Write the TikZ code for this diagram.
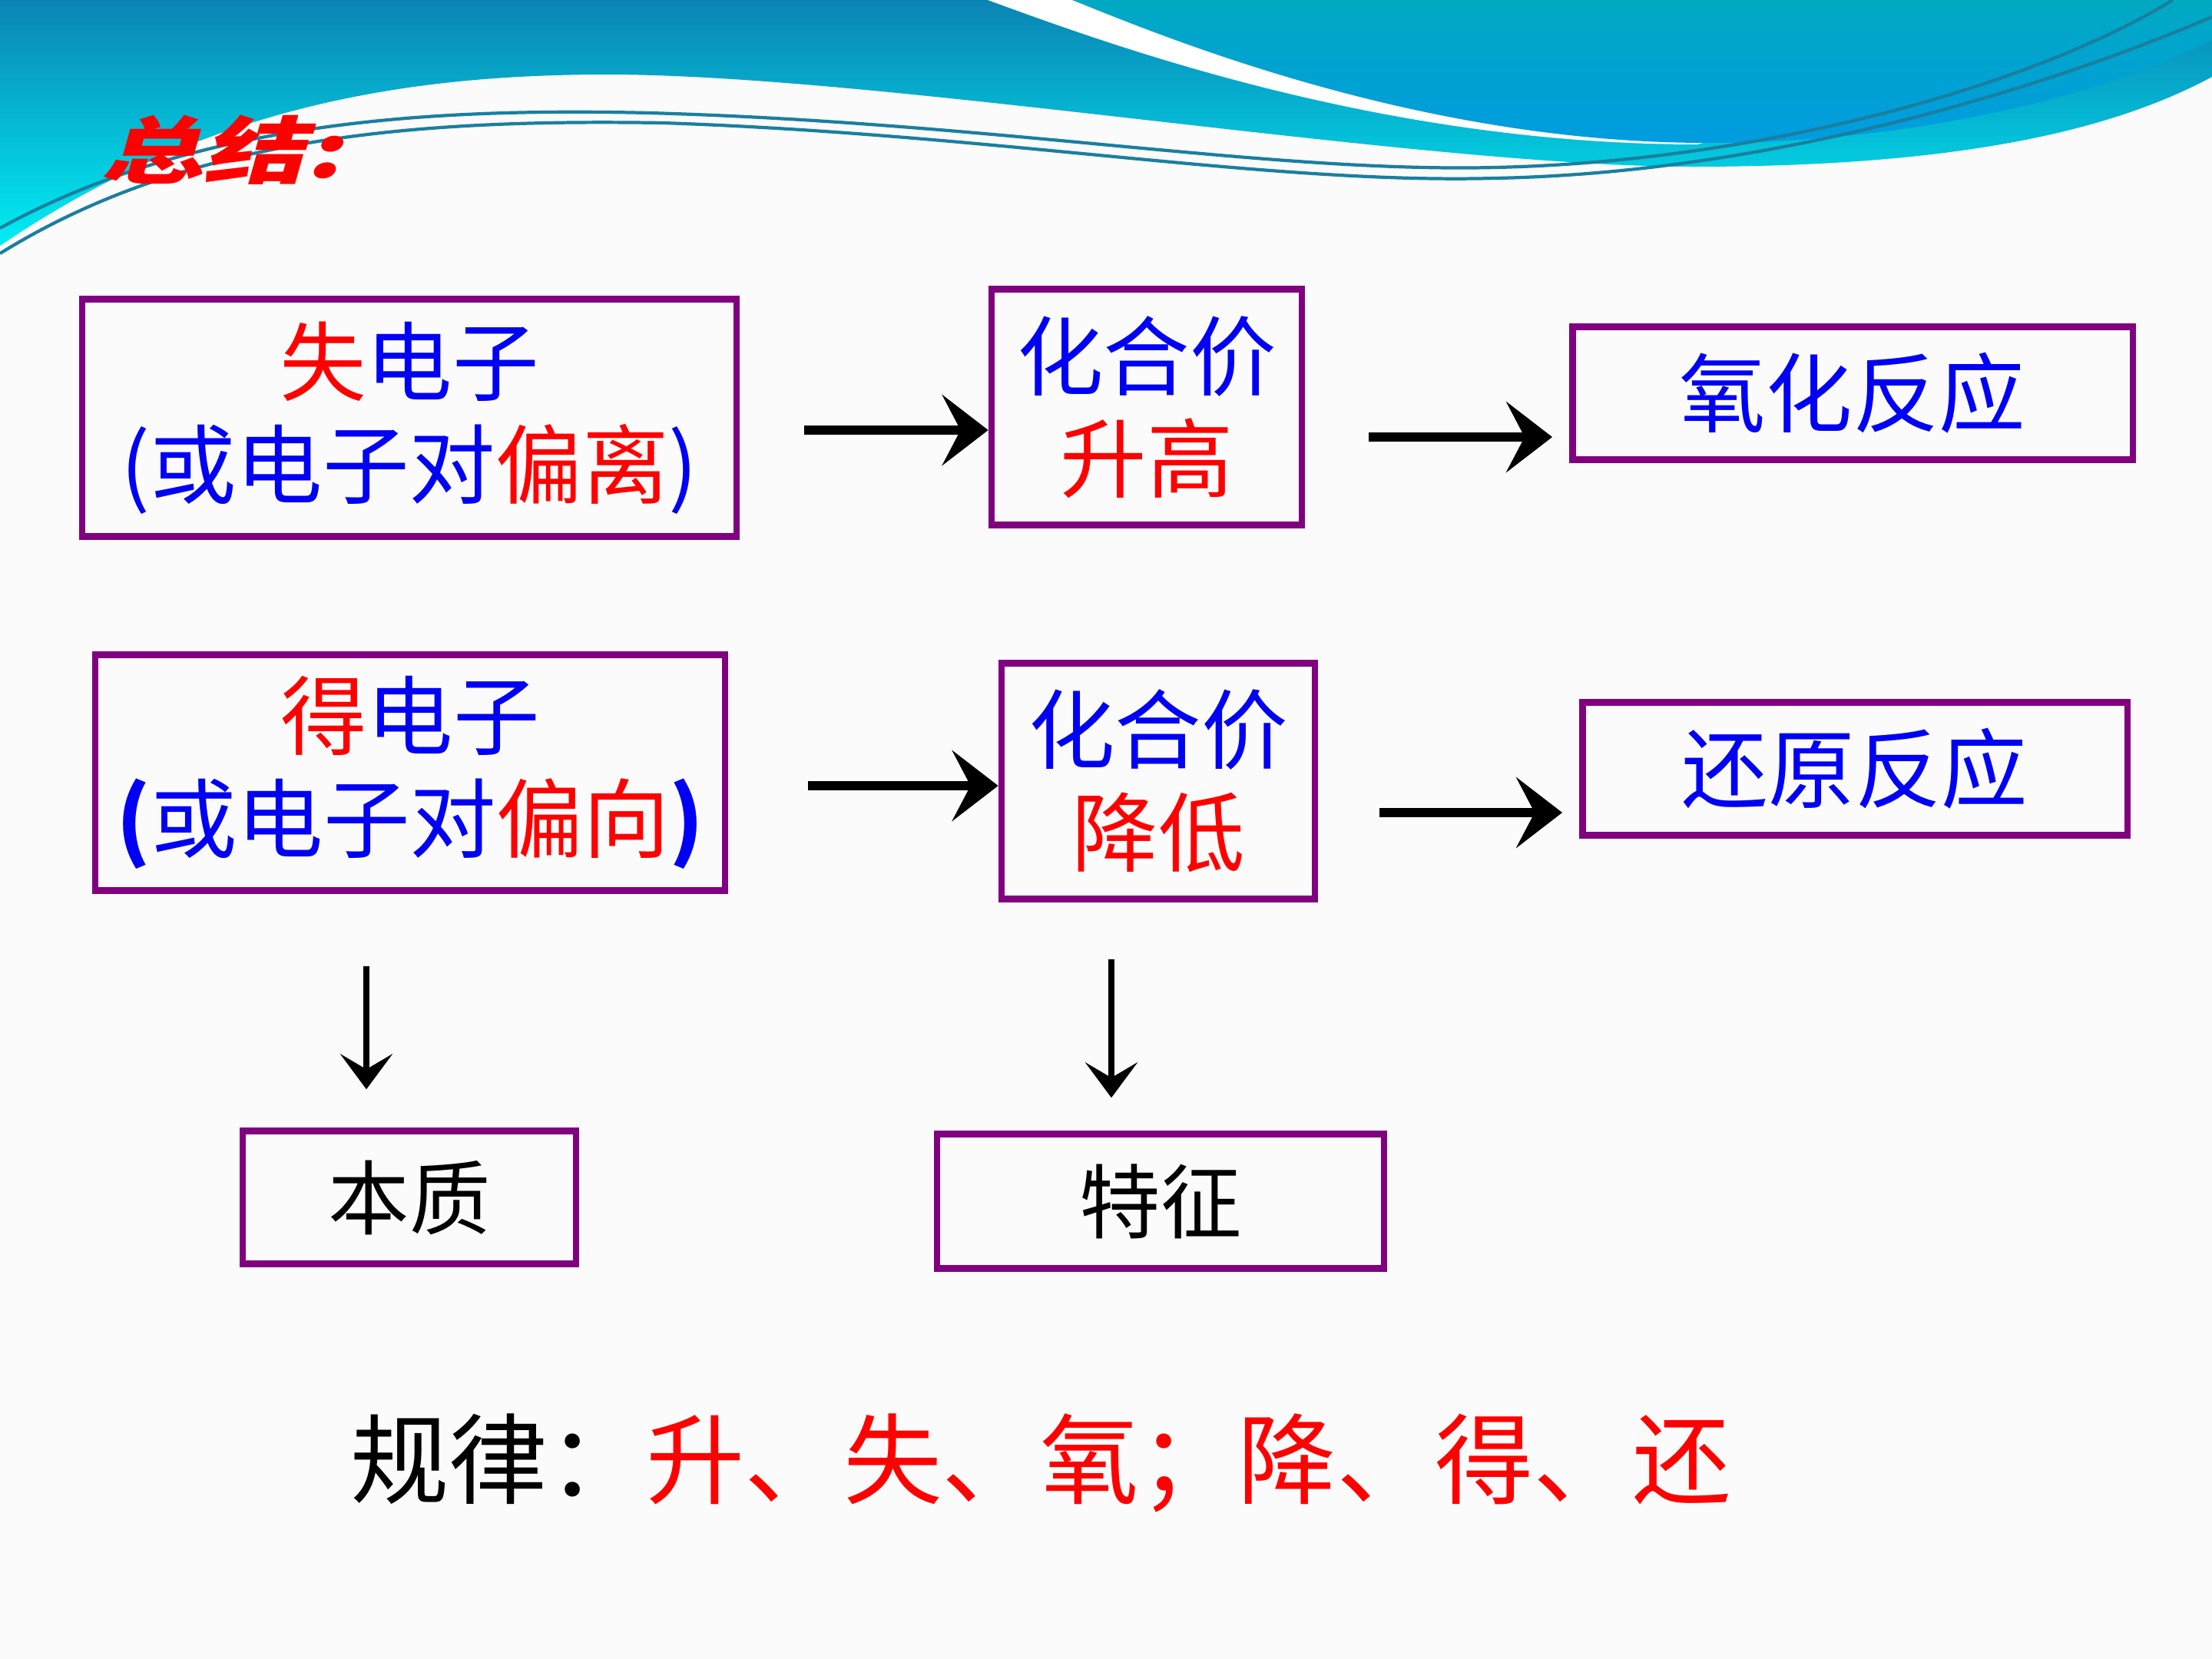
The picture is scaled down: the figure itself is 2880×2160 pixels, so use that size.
\documentclass[tikz,border=0pt]{standalone}
\usepackage{fontspec}
\newfontfamily\cjk{Noto Sans CJK SC}
\usetikzlibrary{arrows.meta,calc}
\definecolor{boxpurple}{HTML}{800080}
\definecolor{tred}{HTML}{FF0000}
\definecolor{tblue}{HTML}{0000F5}
\definecolor{bgcol}{HTML}{FBFBFB}
\definecolor{hdtop}{HTML}{0A84B4}
\definecolor{hdmid}{HTML}{0590C2}
\definecolor{hdbot}{HTML}{00EEF4}
\definecolor{ltop}{HTML}{00A9C2}
\definecolor{lbot}{HTML}{009CE0}
\definecolor{wave}{HTML}{1A7FA0}
\tikzset{
  box/.style={draw=boxpurple, line width=2.4pt, inner sep=0pt, align=center,
    font=\cjk\fontsize{32}{38}\selectfont},
  smallbox/.style={box, font=\cjk\fontsize{30}{36}\selectfont},
  harrow/.style={line width=3.6pt, -{Stealth[length=0.6cm,width=0.92cm,inset=0.24cm]}},
  varrow/.style={line width=2.5pt, -{Stealth[length=0.46cm,width=0.68cm,inset=0.2cm]}},
  wavel/.style={draw=wave, line width=1.2pt},
}
\begin{document}
\begin{tikzpicture}[x=0.01cm,y=-0.01cm]
\useasboundingbox (0,0) rectangle (2880,2160);
\fill[bgcol] (0,0) rectangle (2880,2160);
% header
\shade[top color=hdtop, middle color=hdmid, bottom color=hdbot]
  (0,320) .. controls (250,150) and (500,97) .. (790,97)
  .. controls (1150,97) and (1850,217) .. (2204,217)
  .. controls (2550,217) and (2750,170) .. (2880,100)
  -- (2880,0) -- (0,0) -- cycle;
\fill[white] (1286,0) .. controls (1450,60) and (1800,188) .. (2210,188) -- (2880,0) -- cycle;
\shade[top color=ltop, bottom color=lbot]
  (1396,0) .. controls (1520,50) and (1850,186) .. (2222,186)
  .. controls (2500,186) and (2750,120) .. (2880,52) -- (2880,0) -- cycle;
\draw[wavel] (0,297) .. controls (250,160) and (550,140) .. (845,147)
  .. controls (1300,160) and (1650,225) .. (1947,218)
  .. controls (2300,210) and (2650,110) .. (2829,0);
\draw[wavel] (0,330) .. controls (250,175) and (550,155) .. (863,160)
  .. controls (1300,175) and (1650,240) .. (1947,232)
  .. controls (2300,225) and (2650,120) .. (2880,22);
% title
\node[font=\cjk\bfseries\fontsize{27}{30}\selectfont, text=tred, xscale=1.4, xslant=0.2, inner sep=0pt] (title) at (298,195) {总结:};
% boxes
\node[box, minimum width=8.52cm, minimum height=3.09cm] (b1) at (533,544)
  {\textcolor{tred}{失}\textcolor{tblue}{电子}\\\textcolor{tblue}{(或电子对}\textcolor{tred}{偏离}\textcolor{tblue}{)}};
\node[box, minimum width=4.04cm, minimum height=3.07cm] (b2) at (1493,530)
  {\textcolor{tblue}{化合价}\\\textcolor{tred}{升高}};
\node[box, minimum width=7.29cm, minimum height=1.73cm] (b3) at (2412,512)
  {\textcolor{tblue}{氧化反应}};
\node[box, minimum width=8.19cm, minimum height=3.07cm] (b4) at (534,1006)
  {\textcolor{tred}{得}\textcolor{tblue}{电子}\\\textcolor{tblue}{\bfseries(}\textcolor{tblue}{或电子对}\textcolor{tred}{偏向}\textcolor{tblue}{\bfseries)}};
\node[box, minimum width=4.08cm, minimum height=3.07cm] (b5) at (1508,1017)
  {\textcolor{tblue}{化合价}\\\textcolor{tred}{降低}};
\node[box, minimum width=7.09cm, minimum height=1.73cm] (b6) at (2415,1001)
  {\textcolor{tblue}{还原反应}};
\node[smallbox, minimum width=4.34cm, minimum height=1.73cm] (b7) at (533,1559) {本质};
\node[smallbox, minimum width=5.82cm, minimum height=1.75cm] (b8) at (1511,1564) {特征};
% arrows
\coordinate (a1s) at (1047,560);
\coordinate (a2s) at (1782,569);
\coordinate (a3s) at (1052,1023);
\coordinate (a4s) at (1796,1058);
\coordinate (d1s) at (477,1258);
\coordinate (d2s) at (1447,1249);
\draw[harrow] (a1s) -- (a1s -| b2.west);
\draw[harrow] (a2s) -- ($(a2s -| b3.west)+(-22,0)$);
\draw[harrow] (a3s) -- (a3s -| b5.west);
\draw[harrow] (a4s) -- ($(a4s -| b6.west)+(-22,0)$);
\draw[varrow] (d1s) -- ($(d1s |- b7.north)+(0,-50)$);
\draw[varrow] (d2s) -- ($(d2s |- b8.north)+(0,-43)$);
% rule
\node[font=\cjk\fontsize{36.5}{40}\selectfont, inner sep=0pt] (rule) at (1355,1905)
  {\textcolor{black}{规律：}\textcolor{tred}{升、失、氧；降、得、还}};
\end{tikzpicture}
\end{document}
